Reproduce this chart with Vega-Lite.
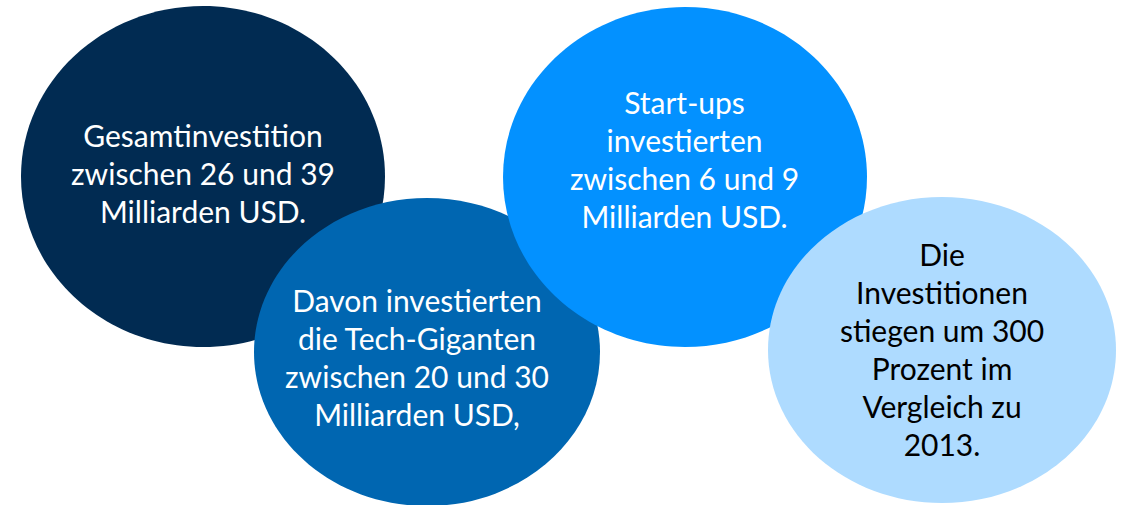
{
  "$schema": "https://vega.github.io/schema/vega-lite/v6.json",
  "width": 1122,
  "height": 505,
  "autosize": {"type": "none"},
  "padding": 0,
  "background": "white",
  "config": {"view": {"stroke": null}},
  "data": {
    "values": [
      {"id": "a", "cx": 203, "cy": 176.5, "tx": 203, "ty": 138, "label": "Gesamtinvestition\nzwischen 26 und 39\nMilliarden USD."},
      {"id": "b", "cx": 427, "cy": 352, "tx": 417, "ty": 303, "label": "Davon investierten\ndie Tech-Giganten\nzwischen 20 und 30\nMilliarden USD,"},
      {"id": "c", "cx": 685, "cy": 177, "tx": 684.5, "ty": 105, "label": "Start-ups\ninvestierten\nzwischen 6 und 9\nMilliarden USD."},
      {"id": "d", "cx": 942, "cy": 350, "tx": 942, "ty": 257, "label": "Die\nInvestitionen\nstiegen um 300\nProzent im\nVergleich zu\n2013."}
    ]
  },
  "layer": [
    {
      "mark": {"type": "point", "filled": true, "opacity": 1, "strokeWidth": 0},
      "encoding": {
        "x": {"field": "cx", "type": "quantitative", "scale": {"domain": [0, 1122], "nice": false, "zero": false}, "axis": null},
        "y": {"field": "cy", "type": "quantitative", "scale": {"domain": [0, 505], "nice": false, "zero": false, "reverse": true}, "axis": null},
        "color": {"field": "id", "type": "nominal", "legend": null,
          "scale": {"domain": ["a", "b", "c", "d"], "range": ["#012B52", "#0066B1", "#0391FF", "#AEDBFF"]}},
        "shape": {"field": "id", "type": "nominal", "legend": null,
          "scale": {"domain": ["a", "b", "c", "d"], "range": [
            "M 1 0 C 1 0.5175 0.5523 0.937 0 0.937 C -0.5523 0.937 -1 0.5175 -1 0 C -1 -0.5175 -0.5523 -0.937 0 -0.937 C 0.5523 -0.937 1 -0.5175 1 0 Z",
            "M 1 0 C 1 0.4917 0.5523 0.8902 0 0.8902 C -0.5523 0.8902 -1 0.4917 -1 0 C -1 -0.4917 -0.5523 -0.8902 0 -0.8902 C 0.5523 -0.8902 1 -0.4917 1 0 Z",
            "M 1 0 C 1 0.5159 0.5523 0.934 0 0.934 C -0.5523 0.934 -1 0.5159 -1 0 C -1 -0.5159 -0.5523 -0.934 0 -0.934 C 0.5523 -0.934 1 -0.5159 1 0 Z",
            "M 1 0 C 1 0.4857 0.5523 0.8793 0 0.8793 C -0.5523 0.8793 -1 0.4857 -1 0 C -1 -0.4857 -0.5523 -0.8793 0 -0.8793 C 0.5523 -0.8793 1 -0.4857 1 0 Z"
          ]}},
        "size": {"field": "id", "type": "nominal", "legend": null,
          "scale": {"type": "ordinal", "domain": ["a", "b", "c", "d"], "range": [132496, 119716, 132496, 121104]}},
        "order": {"field": "id", "type": "nominal"}
      }
    },
    {
      "mark": {"type": "text", "font": "Lato", "fontSize": 30, "lineHeight": 38, "lineBreak": "\n", "align": "center", "baseline": "middle"},
      "encoding": {
        "x": {"field": "tx", "type": "quantitative"},
        "y": {"field": "ty", "type": "quantitative"},
        "text": {"field": "label", "type": "nominal"},
        "color": {"condition": {"test": "datum.id === 'd'", "value": "#000000"}, "value": "#FFFFFF"}
      }
    }
  ]
}
